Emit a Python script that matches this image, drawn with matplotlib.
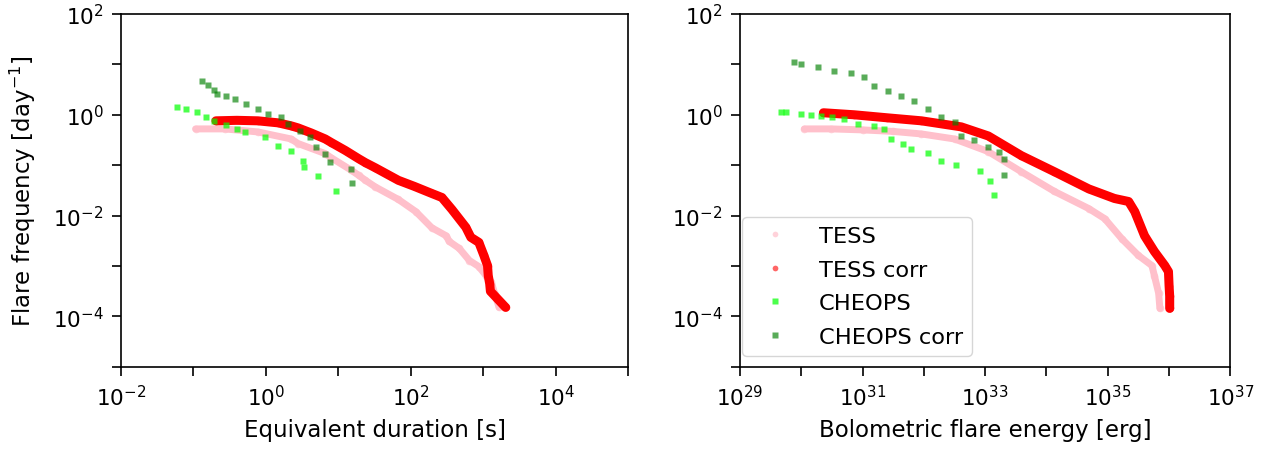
import numpy as np
import matplotlib
matplotlib.use('Agg')
import matplotlib.pyplot as plt

# values, stored as log10
# left panel: equivalent duration [s] vs flare frequency [1/day]
ed_tess_lx = [-0.97, -0.57, -0.11, 0.35, 0.444, 0.82, 0.90, 1.18, 1.28, 1.375, 1.51, 1.83, 2.07, 2.29, 2.49, 2.53, 2.67, 2.81, 2.94, 3.04, 3.11, 3.16, 3.22]
ed_tess_ly = [-0.28, -0.28, -0.34, -0.48, -0.57, -0.77, -0.85, -1.10, -1.20, -1.30, -1.43, -1.68, -1.92, -2.24, -2.40, -2.51, -2.65, -2.89, -3.01, -3.19, -3.31, -3.55, -3.82]

ed_corr_lx = [-0.69, -0.4, -0.11, 0.17, 0.35, 0.444, 0.625, 0.82, 0.903, 1.1, 1.28, 1.375, 1.51, 1.83, 2.05, 2.29, 2.43, 2.57, 2.76, 2.83, 2.94, 3.01, 3.06, 3.07, 3.09, 3.10, 3.31]
ed_corr_ly = [-0.12, -0.11, -0.12, -0.16, -0.22, -0.26, -0.36, -0.48, -0.55, -0.71, -0.87, -0.95, -1.05, -1.30, -1.42, -1.56, -1.64, -1.88, -2.23, -2.43, -2.53, -2.79, -2.99, -3.19, -3.35, -3.5, -3.82]

ed_cheops_lx = [-1.22, -1.1, -0.95, -0.82, -0.71, -0.55, -0.40, -0.29, -0.01, 0.17, 0.35, 0.51, 0.53, 0.72, 0.97]
ed_cheops_ly = [0.16, 0.12, 0.05, -0.05, -0.12, -0.20, -0.28, -0.34, -0.44, -0.61, -0.71, -0.91, -1.03, -1.21, -1.52]

ed_cheops_corr_lx = [-0.875, -0.80, -0.72, -0.67, -0.55, -0.43, -0.27, -0.11, 0.03, 0.21, 0.30, 0.47, 0.61, 0.69, 0.82, 0.89, 1.17, 1.19]
ed_cheops_corr_ly = [0.67, 0.60, 0.50, 0.42, 0.37, 0.32, 0.22, 0.12, 0.02, -0.04, -0.18, -0.32, -0.44, -0.63, -0.77, -0.93, -1.07, -1.35]

# right panel: bolometric flare energy [erg] vs flare frequency [1/day]
en_tess_lx = [30.05, 30.49, 31.0, 31.5, 31.96, 32.5, 33.05, 33.59, 34.13, 34.69, 34.95, 35.23, 35.5, 35.72, 35.76, 35.83, 35.85]
en_tess_ly = [-0.28, -0.28, -0.30, -0.33, -0.38, -0.48, -0.73, -1.13, -1.52, -1.86, -2.06, -2.46, -2.79, -2.99, -3.19, -3.54, -3.84]

en_corr_lx = [30.36, 30.86, 31.4, 31.96, 32.61, 33.05, 33.59, 34.13, 34.69, 35.11, 35.34, 35.44, 35.6, 35.76, 35.93, 35.99, 36.0, 36.01, 36.01]
en_corr_ly = [0.04, 0.00, -0.06, -0.12, -0.24, -0.42, -0.81, -1.13, -1.47, -1.66, -1.72, -1.92, -2.40, -2.71, -2.99, -3.11, -3.39, -3.6, -3.84]

en_cheops_lx = [29.67, 29.75, 30.0, 30.15, 30.32, 30.5, 30.7, 30.92, 31.19, 31.35, 31.47, 31.66, 31.79, 32.07, 32.28, 32.53, 32.92, 33.08, 33.15]
en_cheops_ly = [0.06, 0.05, 0.02, 0.0, -0.02, -0.05, -0.08, -0.18, -0.22, -0.28, -0.48, -0.57, -0.67, -0.75, -0.91, -0.99, -1.11, -1.31, -1.60]

en_cheops_corr_lx = [29.88, 29.99, 30.27, 30.54, 30.81, 31.03, 31.19, 31.42, 31.63, 31.84, 32.07, 32.28, 32.5, 32.61, 32.82, 33.04, 33.23, 33.3, 33.31]
en_cheops_corr_ly = [1.05, 1.01, 0.95, 0.87, 0.83, 0.75, 0.57, 0.48, 0.38, 0.28, 0.12, -0.04, -0.14, -0.42, -0.51, -0.63, -0.73, -0.87, -1.19]

labels = ['TESS', 'TESS corr', 'CHEOPS', 'CHEOPS corr']

fig = plt.figure(figsize=(12.87, 4.52), dpi=100)
ax1 = fig.add_axes([0.094, 0.186, 0.394, 0.781])
ax2 = fig.add_axes([0.575, 0.186, 0.381, 0.781])


def draw(ax, tx, ty, cx, cy, gx, gy, dx, dy):
    tx, ty, cx, cy = [10 ** np.array(a) for a in (tx, ty, cx, cy)]
    gx, gy, dx, dy = [10 ** np.array(a) for a in (gx, gy, dx, dy)]
    # TESS samples are dense, so show them as a continuous band
    ax.plot(tx, ty, '-', color='pink', lw=5, solid_capstyle='round', zorder=1)
    ax.plot(tx, ty, 'o', color='pink', ms=5.5, alpha=0.7, mec='none', label=labels[0], zorder=2)
    ax.plot(cx, cy, '-', color='red', lw=6.5, solid_capstyle='round', zorder=3)
    ax.plot(cx, cy, 'o', color='red', ms=5.5, alpha=0.6, mec='none', label=labels[1], zorder=4)
    ax.plot(gx, gy, 's', color='lime', ms=5, alpha=0.7, mec='none', label=labels[2], zorder=5)
    ax.plot(dx, dy, 's', color='green', ms=5, alpha=0.65, mec='none', label=labels[3], zorder=6)
    ax.set_xscale('log')
    ax.set_yscale('log')
    ax.set_ylim(1e-5, 1e2)
    yt = [10.0 ** k for k in range(-5, 3)]
    ax.set_yticks(yt)
    ax.set_yticklabels(['$10^{%d}$' % k if k % 2 == 0 else '' for k in range(-5, 3)])
    ax.minorticks_off()
    ax.tick_params(labelsize=15.5, length=6.5, width=1.2, pad=6)
    for s in ax.spines.values():
        s.set_linewidth(1.2)


draw(ax1, ed_tess_lx, ed_tess_ly, ed_corr_lx, ed_corr_ly,
     ed_cheops_lx, ed_cheops_ly, ed_cheops_corr_lx, ed_cheops_corr_ly)
ax1.set_xlim(1e-2, 1e5)
ax1.set_xticks([10.0 ** k for k in range(-2, 6)])
ax1.set_xticklabels(['$10^{%d}$' % k if k % 2 == 0 else '' for k in range(-2, 6)])
ax1.minorticks_off()
ax1.set_xlabel('Equivalent duration [s]', fontsize=16.5, labelpad=6)
ax1.set_ylabel('Flare frequency [day$^{-1}$]', fontsize=16.5, labelpad=11)

draw(ax2, en_tess_lx, en_tess_ly, en_corr_lx, en_corr_ly,
     en_cheops_lx, en_cheops_ly, en_cheops_corr_lx, en_cheops_corr_ly)
ax2.set_xlim(1e29, 1e37)
ax2.set_xticks([10.0 ** k for k in range(29, 38)])
ax2.set_xticklabels(['$10^{%d}$' % k if k % 2 == 1 else '' for k in range(29, 38)])
ax2.minorticks_off()
ax2.set_xlabel('Bolometric flare energy [erg]', fontsize=16.5, labelpad=6)

ax2.legend(loc='lower left', bbox_to_anchor=(0.0, 0.025), borderaxespad=0.1,
           fontsize=16.2, markerscale=0.75, labelspacing=0.6, handletextpad=0.9,
           handlelength=2.1, borderpad=0.4)

fig.savefig('out.png', dpi=100)
